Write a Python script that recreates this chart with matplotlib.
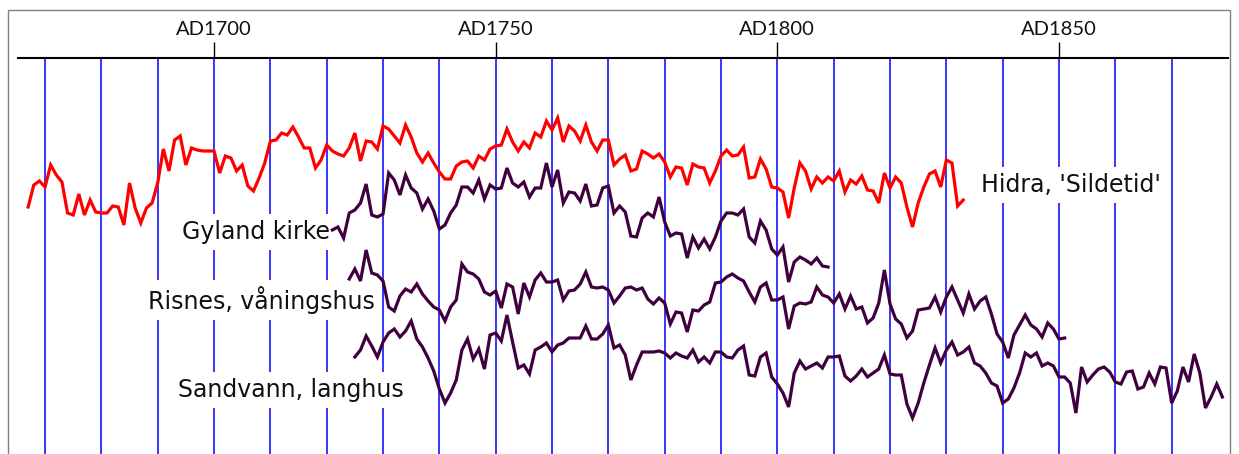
import numpy as np
import matplotlib
matplotlib.use("Agg")
import matplotlib.pyplot as plt
from matplotlib.patches import Rectangle

plt.rcParams['font.family'] = ['Lato', 'DejaVu Sans']

# index values (arbitrary units)
hidra_start = 1667
hidra = [247, 269, 273, 267, 289, 279, 272, 241, 239, 260, 239, 254, 242, 241, 241, 248, 247, 229, 271, 246,
         231, 246, 251, 271, 305, 283, 314, 318, 289, 306, 304, 303, 303, 303, 281, 298, 296, 283, 289, 268,
         263, 276, 291, 313, 314, 321, 319, 327, 317, 306, 306, 286, 294, 309, 303, 300, 298, 306, 321, 293,
         313, 312, 305, 328, 325, 318, 311, 329, 317, 301, 292, 301, 291, 282, 275, 275, 288, 292, 293, 286,
         298, 294, 305, 308, 309, 325, 312, 303, 312, 306, 321, 317, 333, 324, 336, 312, 328, 323, 313, 329,
         312, 303, 314, 314, 289, 295, 299, 283, 285, 303, 300, 296, 300, 292, 277, 287, 286, 269, 290, 287,
         286, 271, 283, 298, 304, 298, 299, 307, 276, 277, 295, 285, 267, 266, 262, 236, 266, 291, 283, 265,
         277, 271, 277, 273, 283, 262, 274, 270, 278, 264, 263, 251, 281, 266, 277, 271, 247, 227, 251, 267,
         280, 283, 267, 294, 291, 248, 254]

gyland_start = 1721
gyland = [224, 227, 216, 241, 244, 251, 270, 239, 237, 240, 281, 274, 259, 279, 266, 261, 245, 255, 243, 225,
          229, 241, 249, 267, 267, 261, 274, 255, 269, 265, 266, 286, 271, 267, 272, 257, 266, 266, 291, 267,
          284, 251, 262, 261, 253, 270, 248, 249, 266, 268, 241, 248, 242, 218, 217, 236, 241, 237, 257, 232,
          218, 221, 220, 196, 217, 206, 215, 205, 217, 233, 241, 241, 239, 245, 217, 211, 233, 224, 205, 199,
          207, 172, 192, 197, 194, 190, 196, 188, 187]

risnes_start = 1724
risnes = [175, 185, 173, 204, 181, 179, 173, 147, 143, 158, 165, 162, 170, 160, 153, 147, 144, 133, 147, 154,
          190, 182, 180, 175, 162, 159, 163, 146, 170, 167, 140, 171, 157, 174, 181, 172, 172, 174, 154, 163,
          164, 170, 182, 167, 166, 167, 164, 151, 158, 166, 167, 164, 166, 155, 150, 156, 151, 130, 142, 141,
          122, 144, 143, 149, 152, 171, 172, 177, 180, 176, 173, 162, 152, 167, 171, 154, 154, 157, 125, 148,
          151, 150, 152, 167, 159, 157, 151, 160, 145, 158, 145, 147, 131, 136, 151, 184, 150, 135, 130, 116,
          123, 144, 145, 146, 157, 142, 157, 167, 154, 141, 160, 145, 153, 157, 140, 120, 112, 96, 119, 129,
          139, 129, 125, 117, 131, 125, 115, 116]

sandvann_start = 1725
sandvann = [97, 104, 118, 108, 97, 112, 121, 125, 117, 123, 133, 115, 107, 96, 83, 65, 51, 61, 74, 104,
            115, 95, 105, 85, 119, 121, 113, 139, 112, 86, 89, 80, 104, 107, 111, 102, 109, 111, 116, 116,
            116, 128, 115, 115, 120, 129, 106, 109, 99, 74, 89, 102, 102, 102, 103, 101, 96, 101, 98, 96,
            104, 92, 97, 91, 102, 102, 97, 96, 104, 108, 79, 78, 97, 101, 77, 70, 61, 47, 81, 93,
            85, 88, 91, 86, 97, 97, 98, 78, 73, 78, 85, 77, 81, 85, 99, 80, 79, 79, 50, 36,
            51, 71, 89, 106, 91, 104, 112, 99, 102, 107, 91, 88, 81, 71, 68, 51, 55, 66, 81, 101,
            97, 101, 88, 91, 88, 77, 77, 71, 41, 87, 72, 79, 85, 87, 82, 72, 70, 82, 83, 65,
            67, 81, 70, 87, 86, 51, 63, 87, 72, 100, 81, 46, 57, 70, 57]

major_years = [1700, 1750, 1800, 1850]
tick_labels = ["AD1700", "AD1750", "AD1800", "AD1850"]
decades = list(range(1670, 1880, 10))

series = [
    (hidra_start, hidra, "#ff0000"),
    (gyland_start, gyland, "#400040"),
    (risnes_start, risnes, "#400040"),
    (sandvann_start, sandvann, "#400040"),
]

fig = plt.figure(figsize=(12.39, 4.54), dpi=100)
ax = fig.add_axes([18 / 1239, 0, (1228 - 18) / 1239, 396 / 454])

for start, vals, col in series:
    yrs = np.arange(start, start + len(vals))
    ax.plot(yrs, vals, color=col, lw=2.3, zorder=3, solid_joinstyle="miter")

ax.set_xlim(1665.2, 1880.0)
ax.set_ylim(0, 396)

ax.xaxis.tick_top()
ax.set_xticks(major_years)
ax.set_xticklabels(tick_labels, fontsize=14.5, color="#111111")
ax.set_xticks(decades, minor=True)
ax.tick_params(axis="x", which="major", direction="out", length=11.5, width=1, pad=3, top=True, bottom=False)
ax.tick_params(axis="x", which="minor", length=0, top=False, bottom=False)
ax.set_yticks([])
ax.grid(True, which="both", axis="x", color="#0000ff", lw=1.1, zorder=1)
ax.set_axisbelow(True)

for s in ["left", "right", "bottom"]:
    ax.spines[s].set_visible(False)
ax.spines["top"].set_linewidth(1.5)

box = dict(facecolor="white", edgecolor="none", pad=4)
lab = dict(fontsize=17, family=["DejaVu Sans"], color="#111111", va="center", bbox=box, zorder=2)
ax.text(1836.1, 269, "Hidra, 'Sildetid'", ha="left", **lab)
ax.text(1720.6, 222, "Gyland kirke", ha="right", **lab)
ax.text(1728.6, 154, "Risnes, våningshus", ha="right", **lab)
ax.text(1733.7, 64, "Sandvann, langhus", ha="right", **lab)

fig.add_artist(Rectangle((8 / 1239, -0.05), (1230 - 8) / 1239, 1.05 - 10 / 454,
                         transform=fig.transFigure, fill=False, edgecolor="#808080", lw=1))

fig.savefig("out.png", dpi=100)
